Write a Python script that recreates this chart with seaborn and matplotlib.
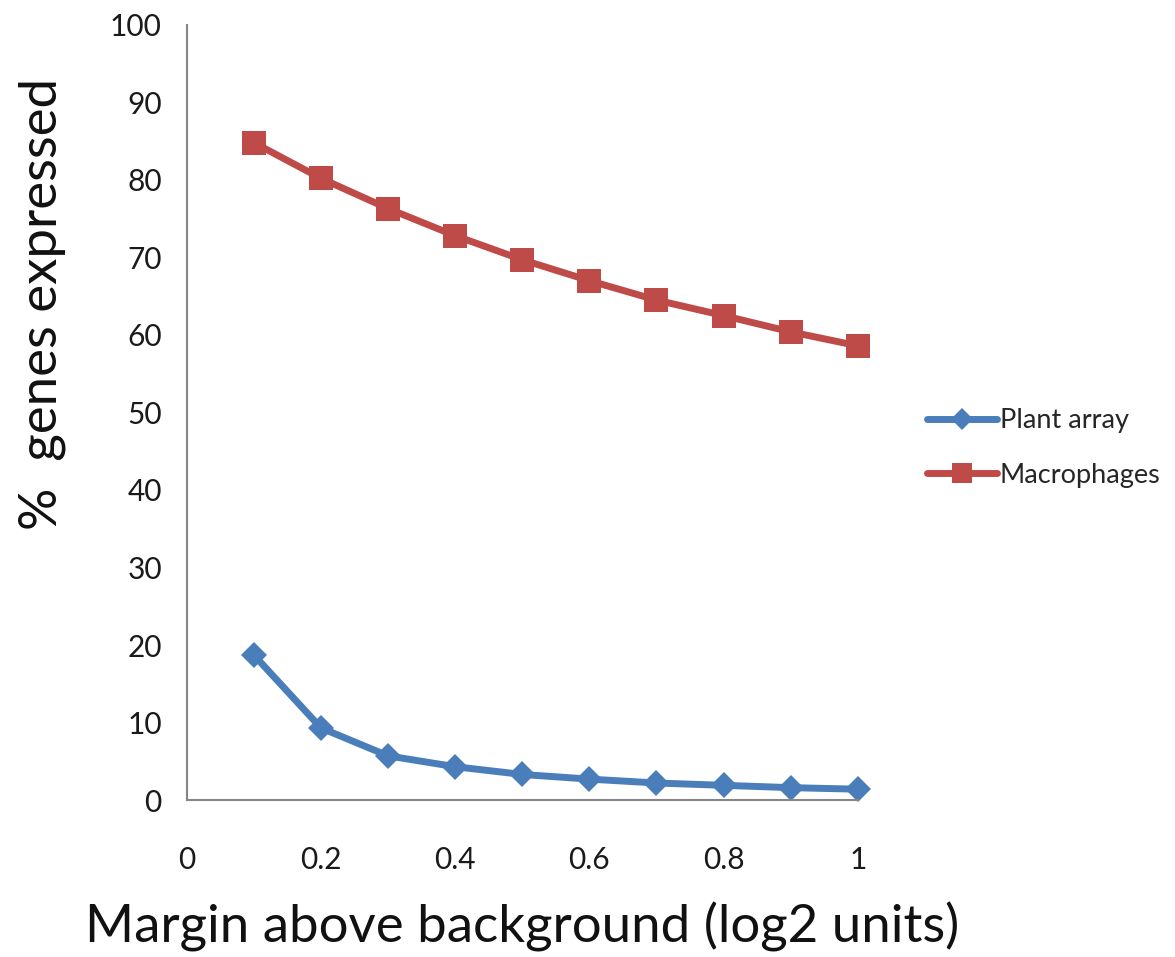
import numpy as np
import pandas as pd
import matplotlib
matplotlib.use("Agg")
import matplotlib.pyplot as plt
import seaborn as sns

margin = [0.1, 0.2, 0.3, 0.4, 0.5, 0.6, 0.7, 0.8, 0.9, 1.0]
plant_array = [18.7, 9.3, 5.7, 4.3, 3.3, 2.7, 2.2, 1.9, 1.6, 1.4]
macrophages = [84.8, 80.2, 76.3, 72.8, 69.7, 67.0, 64.5, 62.5, 60.4, 58.6]
series_names = ["Plant array", "Macrophages"]
x_ticks = [0, 0.2, 0.4, 0.6, 0.8, 1]
x_tick_labels = ["0", "0.2", "0.4", "0.6", "0.8", "1"]
y_ticks = [0, 10, 20, 30, 40, 50, 60, 70, 80, 90, 100]

df = pd.DataFrame({
    "margin": margin * 2,
    "value": plant_array + macrophages,
    "series": [series_names[0]] * len(margin) + [series_names[1]] * len(margin),
})

sns.set_style("white")
plt.rcParams["font.family"] = ["Lato", "DejaVu Sans"]

fig = plt.figure(figsize=(11.75, 9.57), dpi=100)
ax = fig.add_axes([0.159, 0.164, 0.571, 0.810])

palette = {"Plant array": "#4a7ebb", "Macrophages": "#be4b48"}
markers = {"Plant array": "D", "Macrophages": "s"}
sizes = {"Plant array": 13, "Macrophages": 17}

for name in series_names:
    sub = df[df["series"] == name]
    sns.lineplot(data=sub, x="margin", y="value", ax=ax, color=palette[name],
                 marker=markers[name], markersize=sizes[name], linewidth=5,
                 markeredgewidth=0, label=name)

ax.set_xlim(0, 1)
ax.set_ylim(0, 100)
ax.set_xticks(x_ticks)
ax.set_xticklabels(x_tick_labels)
ax.set_yticks(y_ticks)
for s in ["top", "right"]:
    ax.spines[s].set_visible(False)
for s in ["left", "bottom"]:
    ax.spines[s].set_color("#868686")
    ax.spines[s].set_linewidth(1.5)
ax.tick_params(axis="both", which="both", direction="out", length=9, width=1.5,
               color="#868686", labelsize=21.5, labelcolor="#1a1a1a", pad=9)
ax.tick_params(axis="x", pad=24)
ax.set_xlabel("Margin above background (log2 units)", fontsize=38, labelpad=20, color="#111111")
ax.set_ylabel("%  genes expressed", fontsize=38, color="#111111")
ax.yaxis.set_label_coords(-0.18, 0.64)
ax.grid(False)
for line in ax.lines:
    line.set_clip_on(False)

ax.get_legend().remove()
handles, labels = ax.get_legend_handles_labels()
fig.legend(handles, labels, loc="center left", bbox_to_anchor=(0.768, 0.532),
           frameon=False, fontsize=19.5, handlelength=2.6, labelspacing=1.1,
           handletextpad=0.1, markerscale=0.85)

fig.savefig("out.png", dpi=100, facecolor="white")
